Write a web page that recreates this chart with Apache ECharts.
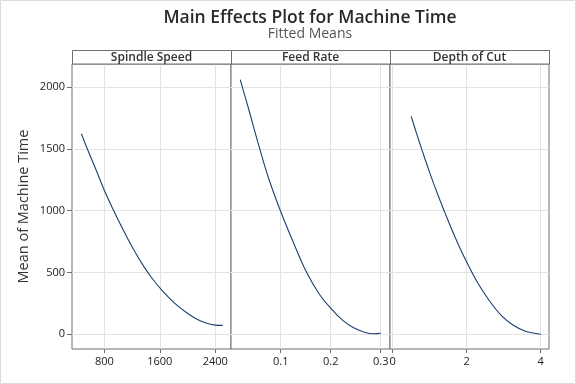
<!DOCTYPE html>
<html>
<head>
<meta charset="utf-8">
<script src="https://cdn.jsdelivr.net/npm/echarts@6/dist/echarts.min.js"></script>
<style>
html,body{margin:0;padding:0;background:#fff;}
#main{width:576px;height:384px;}
</style>
</head>
<body>
<div id="main"></div>
<script>
// Panel titles
var panelNames = ['Spindle Speed', 'Feed Rate', 'Depth of Cut'];

// Spindle Speed panel
var spindleSpeed = [469, 551, 670, 800, 935, 1080, 1224, 1368, 1488, 1632, 1800, 1968, 2136, 2280, 2400, 2507];
var spindleMean  = [1622, 1505, 1345, 1165, 1000, 836, 683, 549, 453, 355, 258, 182, 121, 89, 74, 72];

// Feed Rate panel
var feedRate = [0.019, 0.036, 0.056, 0.076, 0.100, 0.126, 0.151, 0.176, 0.200, 0.223, 0.246, 0.269, 0.286, 0.300];
var feedMean = [2059, 1820, 1530, 1260, 993, 737, 507, 332, 211, 116, 52, 15, 4, 8];

// Depth of Cut panel
var depthCut  = [0.50, 0.64, 0.82, 1.00, 1.22, 1.41, 1.58, 1.81, 2.00, 2.26, 2.58, 2.94, 3.25, 3.57, 3.84, 4.00];
var depthMean = [1762, 1629, 1465, 1308, 1128, 984, 860, 702, 584, 435, 285, 150, 75, 27, 8, 0];

// Tick labels
var spindleTicks = [800, 1600, 2400];
var feedTicks = [0.1, 0.2, 0.3];
var depthTicks = [0, 2, 4];
var yTicks = [0, 500, 1000, 1500, 2000];

var xRanges = [[334, 2626], [0.0006, 0.3186], [-0.073, 4.224]];
var xTicksAll = [spindleTicks, feedTicks, depthTicks];
var xs = [spindleSpeed, feedRate, depthCut];
var ys = [spindleMean, feedMean, depthMean];

var FONT = '"Open Sans", "Noto Sans", sans-serif';
var lefts = [72, 231, 390];
var W = 159;
var TOP = 64, BOTTOM_Y = 349;

var grids = [], xAxes = [], yAxes = [], series = [], graphics = [];
for (var i = 0; i < 3; i++) {
  grids.push({left: lefts[i], top: TOP, width: W, height: BOTTOM_Y - TOP,
    show: true, borderColor: '#6f6f6f', borderWidth: 1, backgroundColor: '#fff'});
  xAxes.push({type: 'value', gridIndex: i, min: xRanges[i][0], max: xRanges[i][1],
    axisLine: {show: false, onZero: false},
    axisTick: {show: true, customValues: xTicksAll[i], length: 4, lineStyle: {color: '#6f6f6f'}},
    axisLabel: {customValues: xTicksAll[i], color: '#222', fontFamily: FONT, fontSize: 11, fontWeight: 500, margin: 7,
      formatter: function (v) { return String(v); }},
    splitLine: {show: true, lineStyle: {color: '#e2e2e2', width: 1}}
  });
  yAxes.push({type: 'value', gridIndex: i, min: -119, max: 2186,
    axisLine: {show: false, onZero: false},
    axisTick: {show: i === 0, customValues: yTicks, length: 5, lineStyle: {color: '#6f6f6f'}},
    axisLabel: {show: i === 0, customValues: yTicks, color: '#222', fontFamily: FONT, fontSize: 11, fontWeight: 500, margin: 7,
      formatter: function (v) { return String(v); }},
    splitLine: {show: true, lineStyle: {color: '#e2e2e2', width: 1}},
    name: i === 0 ? 'Mean of Machine Time' : '',
    nameLocation: 'middle', nameGap: 41, nameRotate: 90,
    nameTextStyle: {fontFamily: FONT, fontSize: 14.5, color: '#333'}
  });
  var d = [];
  for (var k = 0; k < xs[i].length; k++) d.push([xs[i][k], ys[i][k]]);
  series.push({type: 'line', xAxisIndex: i, yAxisIndex: i, data: d, smooth: 0.4,
    showSymbol: false, lineStyle: {color: '#1d3f73', width: 1.1}, silent: true, animation: false});
  graphics.push({type: 'rect', shape: {x: lefts[i] + 0.5, y: 50.5, width: W, height: 13.5},
    style: {fill: '#fff', stroke: '#6f6f6f', lineWidth: 1}, z: 10});
  graphics.push({type: 'text', x: lefts[i] + W / 2, y: 57.5, z: 11,
    style: {text: panelNames[i], fontFamily: FONT, fontSize: 12, fontWeight: 600, fill: '#333',
      align: 'center', verticalAlign: 'middle'}});
}
graphics.push({type: 'text', x: 310, y: 18, z: 11,
  style: {text: 'Main Effects Plot for Machine Time', fontFamily: FONT, fontSize: 17.5, fontWeight: 600,
    fill: '#2a2a2a', align: 'center', verticalAlign: 'middle'}});
graphics.push({type: 'text', x: 310, y: 34, z: 11,
  style: {text: 'Fitted Means', fontFamily: FONT, fontSize: 14, fill: '#555',
    align: 'center', verticalAlign: 'middle'}});
graphics.push({type: 'rect', shape: {x: 0.5, y: 0.5, width: 575, height: 383},
  style: {fill: 'none', stroke: '#dcdcdc', lineWidth: 1}, z: 0, silent: true});

var chart = echarts.init(document.getElementById('main'), null, {renderer: 'canvas'});
chart.setOption({
  animation: false,
  backgroundColor: '#fff',
  grid: grids,
  xAxis: xAxes,
  yAxis: yAxes,
  series: series,
  graphic: graphics
});
</script>
</body>
</html>
